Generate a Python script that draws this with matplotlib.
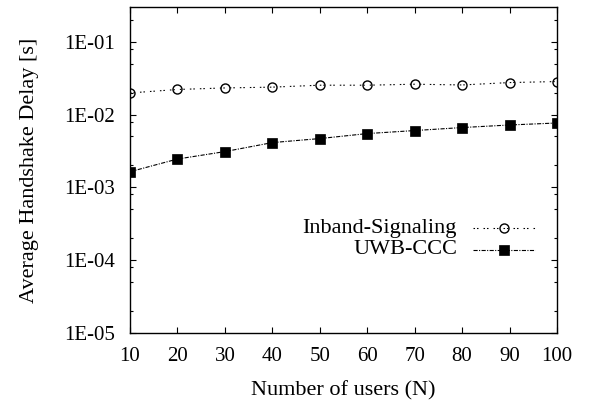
import matplotlib
matplotlib.use("Agg")
import matplotlib.pyplot as plt
from matplotlib.lines import Line2D
from matplotlib.ticker import FixedLocator, LogLocator, NullFormatter

plt.rcParams['font.family'] = ['Liberation Serif', 'DejaVu Serif']
plt.rcParams['lines.scale_dashes'] = False

users = [10, 20, 30, 40, 50, 60, 70, 80, 90, 100]
inband = [0.0198, 0.0221, 0.0232, 0.0238, 0.0253, 0.0253, 0.0261, 0.0255, 0.0275, 0.0284]
uwb = [0.00164, 0.00245, 0.0031, 0.00412, 0.00468, 0.00548, 0.00603, 0.00663, 0.00719, 0.00766]
series_names = ["Inband-Signaling", "UWB-CCC"]
ytick_vals = [1e-5, 1e-4, 1e-3, 1e-2, 1e-1]
ytick_labels = ["1E-05", "1E-04", "1E-03", "1E-02", "1E-01"]

fig = plt.figure(figsize=(5.95, 4.03), dpi=100)
ax = fig.add_axes([130/595, 1-333/403, 427/595, 326/403])

dot_pat = (0, (1.1, 1.4, 1.1, 3.6))
dd_pat = (0, (3.0, 1.0, 0.8, 1.0))
patterns = [dot_pat, dd_pat]

l1, = ax.plot(users, inband, color='black', lw=0.8, linestyle=dot_pat,
              marker='o', markersize=6.5, markerfacecolor='none', markeredgewidth=1.0)
l2, = ax.plot(users, uwb, color='black', lw=0.8, linestyle=dd_pat,
              marker='s', markersize=6.5, markerfacecolor='black', markeredgewidth=0.5)

ax.set_yscale('log')
ax.set_xlim(10, 100)
ax.set_ylim(1e-5, 0.3)
ax.set_xticks(users)
ax.set_xticklabels([str(u) for u in users])
ax.yaxis.set_major_locator(FixedLocator(ytick_vals))
ax.set_yticklabels(ytick_labels)
ax.yaxis.set_minor_locator(LogLocator(base=10, subs=[2, 5, 8]))
ax.yaxis.set_minor_formatter(NullFormatter())

ax.tick_params(which='both', direction='in', top=True, right=True, labelsize=15, width=0.8)
ax.tick_params(which='major', length=4.5)
ax.tick_params(which='minor', length=2.2)
ax.tick_params(axis='y', pad=11)
ax.tick_params(axis='x', pad=10)
for s in ax.spines.values():
    s.set_linewidth(1.0)

ax.set_xlabel("Number of users (N)", fontsize=16, labelpad=11)
ax.set_ylabel("Average Handshake Delay [s]", fontsize=16, labelpad=18)

# gnuplot-style legend: right-aligned text followed by line sample
rows_y = [0.322, 0.255]
for y, name, ln, pat in zip(rows_y, series_names, [l1, l2], patterns):
    ax.text(0.766, y, name, transform=ax.transAxes, ha='right', va='center', fontsize=16)
    ax.add_line(Line2D([0.803, 0.948], [y, y], transform=ax.transAxes, color='black',
                       lw=0.8, linestyle=pat))
    ax.add_line(Line2D([0.8755], [y], transform=ax.transAxes, color='black', lw=0,
                       marker=ln.get_marker(), markersize=6.5,
                       markerfacecolor=ln.get_markerfacecolor(), markeredgewidth=ln.get_markeredgewidth()))

fig.savefig("out.png", dpi=100)
